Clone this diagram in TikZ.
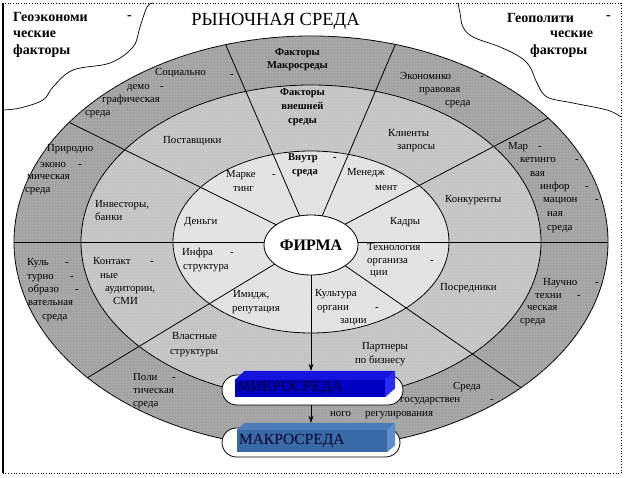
\documentclass[tikz,border=0pt]{standalone}
\usepackage{fontspec}
\setmainfont{Liberation Serif}
\usetikzlibrary{arrows.meta,calc,patterns,shapes.geometric,shapes.misc}

\definecolor{macroGray}{HTML}{A2A2A2}
\definecolor{microGray}{HTML}{C4C4C4}
\definecolor{innerGray}{HTML}{E2E2E2}
\definecolor{microBlue}{HTML}{0000C4}
\definecolor{microTop}{HTML}{1414DC}
\definecolor{microSide}{HTML}{2A2AF4}
\definecolor{macroBlue}{HTML}{3A6AA6}
\definecolor{macroTop}{HTML}{4C7CB8}
\definecolor{macroSide}{HTML}{5C8ECC}
\definecolor{boxInk}{HTML}{00002E}

\tikzset{
  ring/.style={draw, line width=0.8pt},
  ray/.style={line width=0.8pt},
  lbl/.style={font=\fontsize{10.8}{13}\selectfont, anchor=base west, inner sep=0pt},
  blbl/.style={lbl, font=\fontsize{10.5}{13}\selectfont\bfseries},
  hdr/.style={font=\fontsize{14}{16}\selectfont\bfseries, anchor=base west, inner sep=0pt},
  capsule/.style={draw, fill=white, rounded rectangle, inner sep=0pt, line width=0.8pt},
  boxfront/.style={minimum width=150, inner sep=0pt, text width=146, align=left,
    font=\fontsize{15.5}{15.5}\selectfont},
  arr/.style={line width=0.7pt, -{Stealth[length=7pt,width=5pt]}},
  wave/.style={line width=0.7pt}
}

\begin{document}
\begin{tikzpicture}[x=1pt,y=-1pt]
\useasboundingbox (0,0) rectangle (625,478);
% frame
\draw[dotted, line width=0.7pt] (3,3) rectangle (621,473);
\draw[line width=1.2pt] (3,3) -- (3,473);
% geo factors
\draw[wave] plot[smooth, tension=0.6] coordinates {(3,110) (20,108) (43,100) (53,87) (73,70) (110,63) (133,47) (140,27) (147,7) (153,3)};
\draw[wave] plot[smooth, tension=0.6] coordinates {(458,3) (460,13) (463,27) (473,37) (500,47) (520,57) (530,67) (537,83) (547,97) (573,103) (607,110) (621,117)};
%
\foreach \x/\y/\t [count=\i] in {13/22/Геоэкономи, 127/20/-, 13/38/ческие, 13/55/факторы,
    507/23/Геополити, 606/20/-, 550/38/ческие, 530/55/факторы}
  \node[hdr] (geo-\i) at (\x,\y) {\t};
\node[font=\fontsize{18.5}{20}\selectfont, anchor=base, inner sep=0pt] (title) at (275.5,26) {РЫНОЧНАЯ СРЕДА};
% rings
\coordinate (hub) at (311,242);
\draw[ring, fill=macroGray, postaction={pattern=dots, pattern color=white!55!macroGray}] (hub) ellipse [x radius=297, y radius=206];
\draw[ring, fill=microGray, postaction={pattern=dots, pattern color=white!55!microGray}] (hub) ellipse [x radius=230, y radius=157];
\draw[ring, fill=innerGray, postaction={pattern=dots, pattern color=white!60!innerGray}] (hub) ellipse [x radius=138, y radius=91];
% rays
\foreach \name/\ang in {w/180, nw/215.5, nnw/253.3, nne/286.5, ne/323, e/0, se/45, sw/138.8} {
  \coordinate (m-\name) at ($(hub)+(\ang:297 and 206)$);
  \draw[ray] (hub) -- (m-\name);
}
\node[draw, ellipse, fill=white, line width=0.8pt, minimum width=94, minimum height=60, inner sep=0pt,
  font=\fontsize{16}{16}\selectfont\bfseries] (firma) at (311,245) {ФИРМА};
% micro / macro boxes
\node[capsule, minimum width=181, minimum height=30] (micro) at (312.5,390) {};
\node[capsule, minimum width=178, minimum height=29] (macro) at (311,442.5) {};
%
\node[boxfront, fill=microBlue, text=boxInk, minimum height=17] (microfront) at (310,388.5) {МИКРОСРЕДА};
\fill[microTop] (microfront.north west) -- ++(10,-9) -- ([shift={(10,-9)}]microfront.north east) -- (microfront.north east) -- cycle;
\fill[microSide] (microfront.north east) -- ++(10,-9) -- ([shift={(10,-9)}]microfront.south east) -- (microfront.south east) -- cycle;
\coordinate (microtop) at ([yshift=9pt]microfront.north);
%
\node[boxfront, fill=macroBlue, text=boxInk, minimum height=22] (macrofront) at (312,441) {МАКРОСРЕДА};
\fill[macroTop] (macrofront.north west) -- ++(8,-7) -- ([shift={(8,-7)}]macrofront.north east) -- (macrofront.north east) -- cycle;
\fill[macroSide] (macrofront.north east) -- ++(8,-7) -- ([shift={(8,-7)}]macrofront.south east) -- (macrofront.south east) -- cycle;
\coordinate (macrotop) at ([yshift=7pt]macrofront.north);
% arrows
\draw[arr] (firma) -- (firma |- microtop);
\draw[arr] (micro.south -| firma) -- (firma |- macrotop);
% macro ring
\foreach \x/\y/\t [count=\i] in {155/76/Социально, 230/78/-, 127/90/демо, 160/90/-, 102/103/графическая, 85/116/среда,
    400/80/Экономико, 480/80/-, 419/93/правовая, 445/106/среда,
    47/152/Природно, 40/168/эконо, 78/168/-, 27/180/мическая, 25/193/среда,
    508/150/Мар, 538/150/-, 520/163/кетинго, 575/163/-, 530/177/вая, 540/190/инфор, 585/190/-,
    543/203/мацион, 595/203/-, 547/217/ная, 547/231/среда,
    27/266/Куль, 65/266/-, 27/280/турно, 70/280/-, 28/293/образо, 75/293/-, 28/306/вательная, 42/320/среда,
    543/286/Научно, 595/286/-, 535/299/техни, 577/299/-, 527/311/ческая, 520/324/среда,
    133/381/Поли, 172/381/-, 133/394/тическая, 133/407/среда,
    453/390/Среда, 400/403/государствен, 490/403/-, 330/417/ного, 365/417/регулирования}
  \node[lbl] (mac-\i) at (\x,\y) {\t};
% micro ring
\foreach \x/\y/\t [count=\i] in {163/144/Поставщики, 388/137/Клиенты/, 397/150/запросы,
    95/208/{Инвесторы,}, 95/221/банки, 445/203/Конкуренты,
    93/265/Контакт, 150/265/-, 100/279/ные, 105/292/{аудитории,}, 113/305/СМИ,
    440/291/Посредники, 172/340/Властные, 170/355/структуры, 362/350/Партнеры, 355/364/по бизнесу}
  \node[lbl] (mic-\i) at (\x,\y) {\t};
% inner ring
\foreach \x/\y/\t [count=\i] in {226/178/Марке, 272/178/-, 233/192/тинг, 347/176/Менедж, 375/191/мент,
    184/225/Деньги, 390/225/Кадры, 182/256/Инфра, 230/256/-, 183/270/структура,
    367/251/Технология, 367/264/организа, 430/264/-, 370/276/ции,
    233/298/{Имидж,}, 232/312/репутация, 315/297/Культура, 317/311/органи, 375/311/-, 340/324/зации}
  \node[lbl] (inn-\i) at (\x,\y) {\t};
% bold headings
\foreach \x/\y/\t [count=\i] in {297.5/56/Факторы, 297.5/69/Макросреды, 302.5/96/Факторы, 302.5/110/внешней, 302.5/124/среды}
  \node[blbl, anchor=base] (fac-\i) at (\x,\y) {\t};
\node[blbl] (vn-1) at (288,161) {Внутр};
\node[blbl] (vn-2) at (333,161) {-};
\node[blbl] (vn-3) at (292,175) {среда};
\end{tikzpicture}
\end{document}
